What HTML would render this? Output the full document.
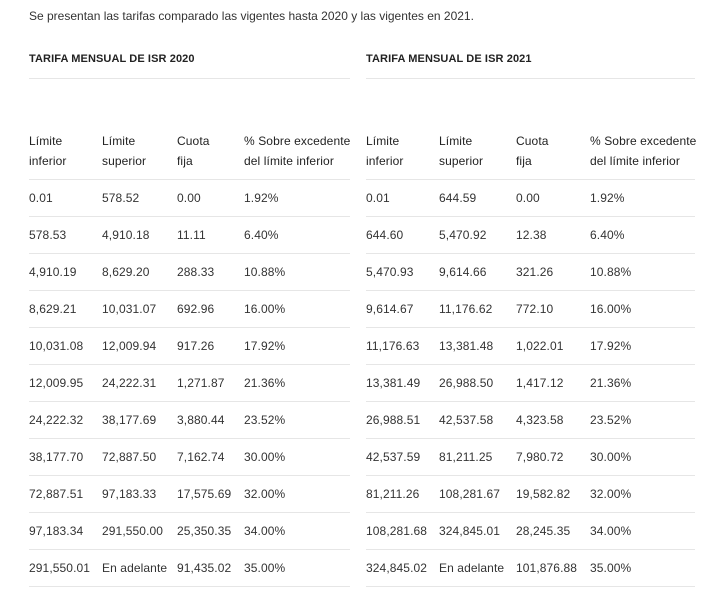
<!DOCTYPE html>
<html><head><meta charset="utf-8"><style>
body{margin:0;width:706px;height:592px;background:#fff;font-family:"Liberation Sans",Arial,sans-serif;color:#333;position:relative;overflow:hidden}
.t{position:absolute;font-size:12px;line-height:14px;white-space:nowrap;letter-spacing:0.1px}
.h{position:absolute;font-size:11px;font-weight:bold;letter-spacing:0.1px;color:#222;white-space:nowrap}
.l{position:absolute;height:1px;background:#e6e6e6}
</style></head><body>
<div class="t" style="left:29px;top:9px;letter-spacing:0">Se presentan las tarifas comparado las vigentes hasta 2020 y las vigentes en 2021.</div>
<div class="h" style="left:29px;top:53px">TARIFA MENSUAL DE ISR 2020</div>
<div class="h" style="left:366px;top:53px">TARIFA MENSUAL DE ISR 2021</div>
<div class="l" style="left:29px;width:321px;top:78px"></div>
<div class="l" style="left:366px;width:329px;top:78px"></div>
<div id="c"></div>
<script>
var L=[[29,102,177,244],[366,439,516,590]];
var hd=[["Límite<br>inferior","Límite<br>superior","Cuota<br>fija","% Sobre excedente<br>del límite inferior"]];
var A=[["0.01","578.52","0.00","1.92%"],["578.53","4,910.18","11.11","6.40%"],["4,910.19","8,629.20","288.33","10.88%"],["8,629.21","10,031.07","692.96","16.00%"],["10,031.08","12,009.94","917.26","17.92%"],["12,009.95","24,222.31","1,271.87","21.36%"],["24,222.32","38,177.69","3,880.44","23.52%"],["38,177.70","72,887.50","7,162.74","30.00%"],["72,887.51","97,183.33","17,575.69","32.00%"],["97,183.34","291,550.00","25,350.35","34.00%"],["291,550.01","En adelante","91,435.02","35.00%"]];
var B=[["0.01","644.59","0.00","1.92%"],["644.60","5,470.92","12.38","6.40%"],["5,470.93","9,614.66","321.26","10.88%"],["9,614.67","11,176.62","772.10","16.00%"],["11,176.63","13,381.48","1,022.01","17.92%"],["13,381.49","26,988.50","1,417.12","21.36%"],["26,988.51","42,537.58","4,323.58","23.52%"],["42,537.59","81,211.25","7,980.72","30.00%"],["81,211.26","108,281.67","19,582.82","32.00%"],["108,281.68","324,845.01","28,245.35","34.00%"],["324,845.02","En adelante","101,876.88","35.00%"]];
var h="";
[A,B].forEach(function(D,k){
 var x=L[k],w=k?329:321;
 for(var j=0;j<4;j++)h+='<div class="t" style="left:'+x[j]+'px;top:131px;line-height:20px;color:#222">'+hd[0][j]+'</div>';
 h+='<div class="l" style="left:'+x[0]+'px;width:'+w+'px;top:179px"></div>';
 D.forEach(function(r,i){
  for(var j=0;j<4;j++)h+='<div class="t" style="left:'+x[j]+'px;top:'+(191+i*37)+'px">'+r[j]+'</div>';
  h+='<div class="l" style="left:'+x[0]+'px;width:'+w+'px;top:'+(216+i*37)+'px"></div>';
 });
});
document.getElementById("c").innerHTML=h;
</script>
</body></html>
